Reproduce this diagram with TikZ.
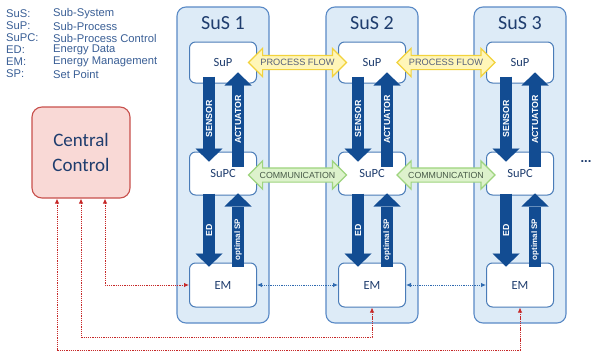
\documentclass[tikz,border=0pt]{standalone}
\usepackage{fontspec}
\setmainfont{Carlito}
\newfontfamily\arialfont{Liberation Sans}
\usetikzlibrary{arrows.meta,shapes.arrows,calc}

\definecolor{susfill}{HTML}{DDEBF7}
\definecolor{susline}{HTML}{5A8AC6}
\definecolor{boxline}{HTML}{4A7CB8}
\definecolor{navy}{HTML}{1F3D6E}
\definecolor{bigblue}{HTML}{124C92}
\definecolor{legendcol}{HTML}{3A5F96}
\definecolor{ccfill}{HTML}{F9D9D6}
\definecolor{ccline}{HTML}{C8504C}
\definecolor{redlink}{HTML}{C62828}
\definecolor{bluelink}{HTML}{2F6AB0}
\definecolor{flowfill}{HTML}{FFF6B8}
\definecolor{flowline}{HTML}{F2D23C}
\definecolor{flowtext}{HTML}{55607A}
\definecolor{comfill}{HTML}{DDF2CC}
\definecolor{comline}{HTML}{9ED47E}
\definecolor{comtext}{HTML}{485A48}

\tikzset{
  susbox/.style={draw=susline, fill=susfill, line width=1.1pt, rounded corners=9pt,
    minimum width=92pt, minimum height=316pt, inner sep=0pt},
  sustitle/.style={text=navy, font=\fontsize{20}{22}\selectfont, inner sep=0pt},
  unit/.style={draw=boxline, fill=white, line width=1pt, rounded corners=6pt,
    minimum width=67pt, inner sep=0pt, text=navy, font=\fontsize{12.5}{14}\selectfont},
  bigarrow/.style={draw=bigblue, line width=12pt,
    -{Triangle[length=13pt,width=27pt,line width=0.01pt]}},
  arlabel/.style={text=white, rotate=90, inner sep=0pt,
    font=\arialfont\bfseries\fontsize{8.8}{10}\selectfont},
  splabel/.style={text=white, rotate=90, inner sep=0pt,
    font=\arialfont\bfseries\fontsize{8}{9}\selectfont},
  flowarrow/.style={double arrow, double arrow head extend=7pt, inner xsep=0pt,
    inner ysep=6.5pt, text height=0pt, text depth=0pt, minimum height=98pt,
    minimum width=27pt, line width=1.2pt},
  flowlbl/.style={inner sep=0pt, text=flowtext, font=\arialfont\fontsize{9.2}{10}\selectfont},
  comlbl/.style={inner sep=0pt, text=comtext, font=\arialfont\fontsize{8.8}{10}\selectfont},
  ccbox/.style={draw=ccline, fill=ccfill, line width=1.1pt, rounded corners=10pt,
    minimum width=98pt, minimum height=91pt, align=center, text=navy,
    font=\fontsize{19}{25}\selectfont},
  redpath/.style={draw=redlink, line width=0.9pt, dash pattern=on 1.3pt off 0.9pt,
    {Latex[length=5pt,width=4.5pt]}-{Latex[length=5pt,width=4.5pt]}},
  bluepath/.style={draw=bluelink, line width=0.9pt, dash pattern=on 1.3pt off 0.9pt,
    {Latex[length=5pt,width=4.5pt]}-{Latex[length=5pt,width=4.5pt]}},
  legkey/.style={anchor=west, inner sep=0pt, text=legendcol,
    font=\arialfont\fontsize{11.2}{13}\selectfont},
}

\begin{document}
\begin{tikzpicture}[x=1pt,y=-1pt]
  \fill[white] (0,0) rectangle (593,356);
  \path[use as bounding box] (0,0) rectangle (593,356);

  % legend
  \foreach \k/\v [count=\i] in {SuS:/Sub-System, SuP:/Sub-Process,
      SuPC:/Sub-Process Control, ED:/Energy Data, EM:/Energy Management,
      SP:/Set Point} {
    \node[legkey] (key\i) at (6,2+12*\i) {\k};
    \node[legkey] (val\i) at (53,2+12*\i) {\v};
  }

  % sub-systems
  \foreach \i/\x in {1/223,2/372,3/520} {
    \node[susbox] (sus\i) at (\x,165) {};
    \node[sustitle] (title\i) at (\x,23) {SuS \i};
    \node[unit, minimum height=41pt] (sup\i) at (\x,62.5) {SuP};
    \node[unit, minimum height=43pt] (supc\i) at (\x,173.5) {SuPC};
    \node[unit, minimum height=44pt] (em\i) at (\x,285) {EM};

    \draw[bigarrow] ([xshift=-14pt,yshift=7pt]sup\i.south)
      -- ([xshift=-14pt,yshift=-10pt]supc\i.north)
      node[midway,arlabel] {SENSOR};
    \draw[bigarrow] ([xshift=15pt,yshift=-15pt]supc\i.north)
      -- ([xshift=15pt,yshift=11pt]sup\i.south)
      node[midway,arlabel] {ACTUATOR};
    \draw[bigarrow] ([xshift=-14pt,yshift=2pt]supc\i.south)
      -- ([xshift=-14pt,yshift=-4pt]em\i.north)
      node[midway,arlabel] {ED};
    \draw[bigarrow] ([xshift=15pt,yshift=-4pt]em\i.north)
      -- ([xshift=15pt,yshift=2pt]supc\i.south)
      node[pos=0.37,splabel] {optimal SP};
  }

  % process flow and communication between neighbours
  \foreach \a/\b in {1/2,2/3} {
    \node[flowarrow, fill=flowfill, draw=flowline] (pf\a)
      at ($(sup\a.east)!0.5!(sup\b.west)$) {};
    \node[flowlbl] (pft\a) at (pf\a) {PROCESS FLOW};
    \node[flowarrow, fill=comfill, draw=comline] (cm\a)
      at ($(supc\a.east)!0.5!(supc\b.west)+(0,1.5)$) {};
    \node[comlbl] (cmt\a) at (cm\a) {COMMUNICATION};
    \draw[bluepath] (em\a.east) -- (em\b.west);
  }

  % central control and its links
  \node[ccbox] (cc) at (81,152.5) {Central\\Control};
  \coordinate (bus2) at (0,337);
  \coordinate (bus1) at (0,350);
  \draw[redpath] ([xshift=24pt]cc.south) |- (em1.west);
  \draw[redpath] (cc.south) |- (em2.south |- bus2) -- (em2.south);
  \draw[redpath] ([xshift=-24pt]cc.south) |- (em3.south |- bus1) -- (em3.south);

  % further sub-systems
  \node[inner sep=0pt, text=navy, font=\arialfont\bfseries\fontsize{13}{14}\selectfont]
    (more) at (586,162) {...};
\end{tikzpicture}
\end{document}
